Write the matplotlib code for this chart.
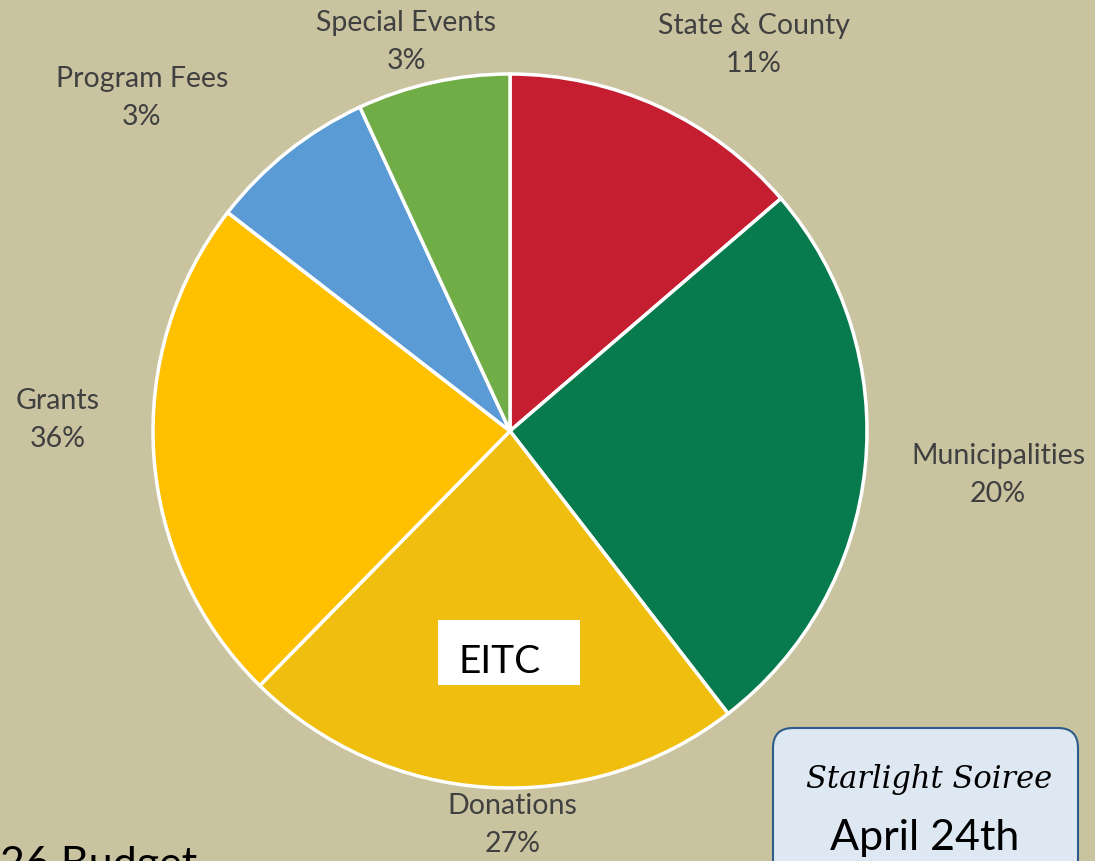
import matplotlib
matplotlib.use("Agg")
import matplotlib.pyplot as plt
from matplotlib.patches import FancyBboxPatch, Rectangle

# ---- data ----
categories = ["State & County", "Municipalities", "Donations", "Grants", "Program Fees", "Special Events"]
slice_values = [13.7, 25.8, 22.8, 23.1, 7.6, 6.9]
label_pcts = ["11%", "20%", "27%", "36%", "3%", "3%"]
colors = ["#C51E30", "#077A4E", "#F0BE0F", "#FFC000", "#5B9BD5", "#70AD47"]

# label positions (in pie radius units)
label_pos = [(0.683, 1.084), (1.367, -0.120), (0.006, -1.101),
             (-1.266, 0.034), (-1.031, 0.936), (-0.291, 1.092)]

W, H = 1095, 862
BG = "#C9C3A0"
fig = plt.figure(figsize=(W / 100, H / 100), dpi=100, facecolor=BG)

cx, cy, r = 510, 432, 357
ax = fig.add_axes([(cx - r) / W, (H - cy - r) / H, 2 * r / W, 2 * r / H])
ax.set_facecolor("none")
ax.pie(slice_values, colors=colors, startangle=90, counterclock=False,
       wedgeprops=dict(edgecolor="white", linewidth=2.5))
ax.set_xlim(-1, 1)
ax.set_ylim(-1, 1)
ax.set_aspect("equal")
ax.axis("off")

for cat, pct, (x, y) in zip(categories, label_pcts, label_pos):
    ax.text(x, y, f"{cat}\n{pct}", ha="center", va="center", fontsize=20.5,
            family="Lato", color="#404040", linespacing=1.6, clip_on=False)

# overlay in pixel coords
ov = fig.add_axes([0, 0, 1, 1])
ov.set_xlim(0, W)
ov.set_ylim(H, 0)
ov.axis("off")
ov.patch.set_alpha(0)

ov.add_patch(Rectangle((438, 621), 142, 65, facecolor="white", edgecolor="none"))
ov.text(500, 662, "EITC", ha="center", va="center", fontsize=28, family="Lato", color="black")

ov.add_patch(FancyBboxPatch((773 + 20, 729 + 20), 305 - 40, 200, boxstyle="round,pad=20",
                            facecolor="#DDE8F3", edgecolor="#2F5C8A", linewidth=1.5, clip_on=True))
ov.text(929, 780, "Starlight Soiree", ha="center", va="center", fontsize=22,
        family="DejaVu Serif", style="italic", color="black")
ov.text(925, 838, "April 24th", ha="center", va="center", fontsize=31, family="Lato", color="black")

ov.text(0, 846, "26 Budget", ha="left", va="top", fontsize=31, family="Lato", color="black")

fig.savefig("out.png", dpi=100, facecolor=BG)
